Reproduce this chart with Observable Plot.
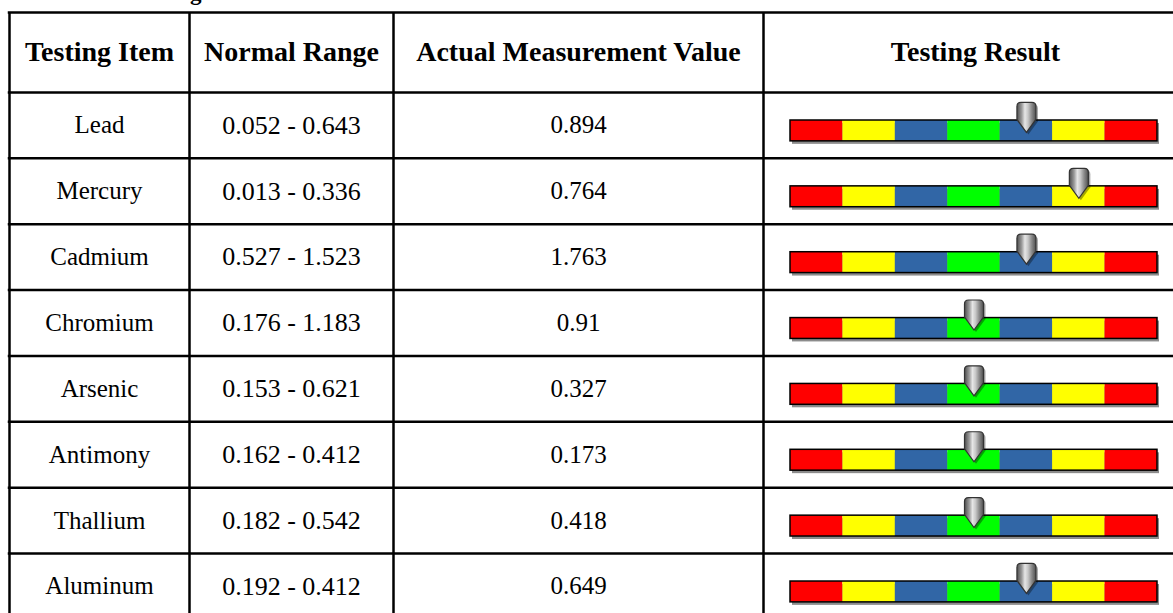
<!DOCTYPE html>
<html>
<head>
<meta charset="utf-8">
<script src="https://cdn.jsdelivr.net/npm/d3@7"></script>
<script src="https://cdn.jsdelivr.net/npm/@observablehq/plot@0.6"></script>
<style>
html,body{margin:0;padding:0;background:#fff;overflow:hidden;width:1173px;height:613px}
#chart svg{display:block}
</style>
</head>
<body>
<div id="chart"></div>
<script>
// ---- data ----
const titleText = "Toxic Metal Testing";
const headers = ["Testing Item", "Normal Range", "Actual Measurement Value", "Testing Result"];
const items = ["Lead", "Mercury", "Cadmium", "Chromium", "Arsenic", "Antimony", "Thallium", "Aluminum"];
const rangeLow = [0.052, 0.013, 0.527, 0.176, 0.153, 0.162, 0.182, 0.192];
const rangeHigh = [0.643, 0.336, 1.523, 1.183, 0.621, 0.412, 0.542, 0.412];
const actualValues = [0.894, 0.764, 1.763, 0.91, 0.327, 0.173, 0.418, 0.649];
const levels = [5, 6, 5, 4, 4, 4, 4, 5]; // gauge segment (1..7) the pointer sits in
const segmentColors = ["#ff0000", "#ffff00", "#3166a6", "#00ff00", "#3166a6", "#ffff00", "#ff0000"];

// ---- derived tables ----
const rows = items.map((item, i) => ({
  i, item,
  range: `${rangeLow[i]} - ${rangeHigh[i]}`,
  actual: String(actualValues[i]),
  level: levels[i]
}));
const segments = rows.flatMap(r => segmentColors.map((c, k) => ({i: r.i, k, color: c})));

// ---- layout ----
const W = 1173, H = 613;
const colEdges = [9, 189, 393, 763, 1187];
const colCenter = headers.map((_, j) => (colEdges[j] + colEdges[j + 1]) / 2);
const gauge = d3.scaleLinear().domain([0, segmentColors.length]).range([790, 1157]);
const rowH = 65.86, headerH = 80, tableTop = 12;
const headerSpan = headerH / rowH;
const bottomRow = (H - tableTop - headerH) / rowH; // visible table bottom, in row units
const serif = "'Liberation Serif','Times New Roman',serif";

const pin = {
  draw(ctx) {
    ctx.moveTo(-9.5, -19);
    ctx.quadraticCurveTo(-9.5, -23, -5.5, -23);
    ctx.lineTo(5.5, -23);
    ctx.quadraticCurveTo(9.5, -23, 9.5, -19);
    ctx.lineTo(9.5, -6);
    ctx.lineTo(0, 7);
    ctx.lineTo(-9.5, -6);
    ctx.closePath();
  }
};

const gaugeBox = {
  x1: () => gauge(0), x2: () => gauge(segmentColors.length),
  y1: d => d.i, y2: d => d.i + 1, insetTop: 28, insetBottom: 17
};

const chart = Plot.plot({
  width: W,
  height: H,
  margin: 0,
  x: {type: "identity"},
  y: {type: "linear", domain: [-headerSpan, items.length], range: [tableTop, tableTop + headerH + items.length * rowH], axis: null},
  color: {type: "identity"},
  style: {fontFamily: serif, background: "#fff", color: "#000"},
  marks: [
    // title (cut off by the top edge, as in the reference)
    Plot.text([titleText], {frameAnchor: "top-left", textAnchor: "start", dx: 9, dy: -17, text: d => d, fontWeight: "bold", fontSize: 23, fill: "#000"}),
    // grid lines
    Plot.ruleY([-headerSpan, ...d3.range(items.length)], {y: d => d, x1: () => colEdges[0] - 1.25, x2: () => W, stroke: "#000", strokeWidth: 2.5}),
    Plot.ruleX(colEdges.slice(0, 4), {x: d => d, y1: () => -headerSpan, y2: () => bottomRow, stroke: "#000", strokeWidth: 2.5}),
    // headers
    Plot.text(headers, {x: (d, j) => colCenter[j], y: () => -headerSpan / 2, text: d => d, fontWeight: "bold", fontSize: 28, fill: "#000"}),
    // cells
    Plot.text(rows, {x: () => colCenter[0], y: d => d.i + 0.5, text: "item", fontSize: 25, fill: "#000"}),
    Plot.text(rows, {x: () => colCenter[1], y: d => d.i + 0.5, text: "range", fontSize: 26, fill: "#000"}),
    Plot.text(rows, {x: () => colCenter[2], y: d => d.i + 0.5, text: "actual", fontSize: 25, fill: "#000"}),
    // gauge shadow
    Plot.rect(rows, {...gaugeBox, dx: 2, dy: 3, fill: "#000", fillOpacity: 0.45, ariaLabel: "gauge-shadow"}),
    // gauge segments
    Plot.rect(segments, {
      x1: d => gauge(d.k), x2: d => gauge(d.k + 1),
      y1: d => d.i, y2: d => d.i + 1, insetTop: 28, insetBottom: 17,
      fill: d => d.color
    }),
    Plot.rect(rows, {...gaugeBox, fill: "none", stroke: "#000", strokeWidth: 1.5}),
    // pointer
    Plot.dot(rows, {x: d => gauge(d.level - 0.5), y: d => d.i + 0.5, symbol: pin, r: 5, fill: "#000", fillOpacity: 0.35, stroke: "none", dx: 2, dy: 2, ariaLabel: "pin-shadow"}),
    Plot.dot(rows, {x: d => gauge(d.level - 0.5), y: d => d.i + 0.5, symbol: pin, r: 5, fill: "url(#pinGrad)", stroke: "#333", strokeWidth: 1.2, ariaLabel: "pin"})
  ]
});

const svg = d3.select(chart);
const defs = svg.insert("defs", ":first-child");
const grad = defs.append("linearGradient").attr("id", "pinGrad")
  .attr("x1", 0).attr("x2", 1).attr("y1", 0).attr("y2", 0);
[[0, "#4d4d4d"], [0.25, "#9a9a9a"], [0.42, "#e6e6e6"], [0.58, "#c8c8c8"], [0.78, "#8a8a8a"], [1, "#505050"]]
  .forEach(([o, c]) => grad.append("stop").attr("offset", o).attr("stop-color", c));
svg.selectAll('g[aria-label="gauge-shadow"], g[aria-label="pin-shadow"]').style("filter", "blur(1.5px)");

document.getElementById("chart").appendChild(chart);
</script>
</body>
</html>
